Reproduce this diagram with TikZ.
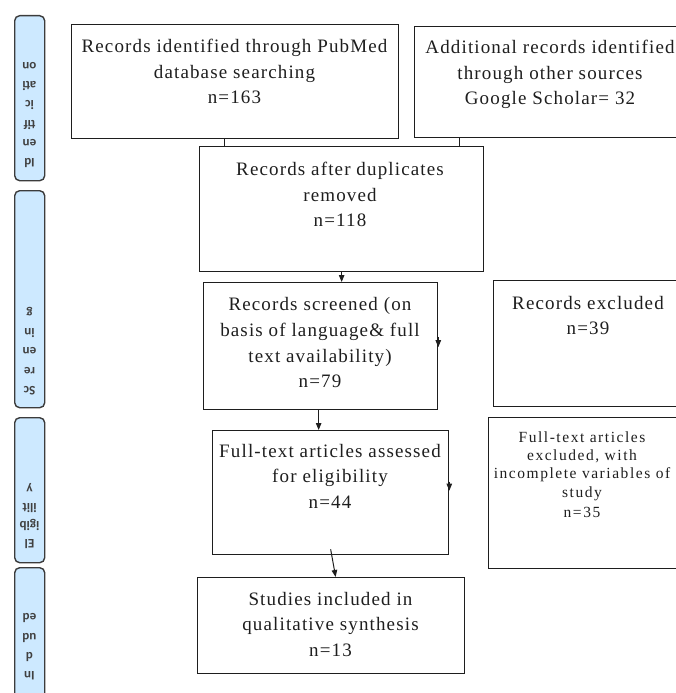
\documentclass[tikz,border=0pt]{standalone}
\usepackage{fontspec}
\setmainfont{Liberation Serif}
\newfontfamily\boxfont[LetterSpace=6]{Liberation Serif}
\newfontfamily\smallboxfont[LetterSpace=10]{Liberation Serif}
\newfontfamily\labfont{Carlito}
\usetikzlibrary{arrows.meta}
\definecolor{labfill}{RGB}{205,233,255}
\definecolor{labedge}{RGB}{60,60,60}
\definecolor{ink}{RGB}{30,30,30}
\begin{document}
\begin{tikzpicture}[x=1pt,y=-1pt,
  box/.style={draw=ink, line width=1.3pt, inner sep=0pt, anchor=north west},
  txt/.style={font=\boxfont\fontsize{19}{25.6}\selectfont, align=center, inner sep=0pt, anchor=north, text=ink},
  stxt/.style={font=\smallboxfont\fontsize{15.5}{18.2}\selectfont, align=center, inner sep=0pt, anchor=north, text=ink},
  lab/.style={draw=labedge, fill=labfill, rounded corners=5pt, line width=1.4pt, minimum width=30pt, inner sep=0pt, anchor=north west},
  labtxt/.style={font=\labfont\bfseries\fontsize{13}{19.3}\selectfont, align=center, inner sep=0pt, rotate=180, text=ink!85},
  conn/.style={draw=ink, line width=1pt},
  arr/.style={conn, -{Triangle[length=7pt,width=5.5pt]}}
]
\useasboundingbox (0,0) rectangle (676,693);
\clip (0,0) rectangle (676,693);

% phase labels
\node[lab, minimum height=165pt] (L1) at (14,15) {};
\node[lab, minimum height=217pt] (L2) at (14,190) {};
\node[lab, minimum height=145pt] (L3) at (14,417) {};
\node[lab, minimum height=140pt] (L4) at (14,567) {};
\node[labtxt] (L1t) at (29.5,115) {Id\\en\\tif\\ic\\ati\\on};
\node[labtxt] (L2t) at (29.5,351) {Sc\\re\\en\\in\\g};
\node[labtxt, font=\labfont\bfseries\fontsize{13}{17.7}\selectfont] (L3t) at (29.5,516) {El\\igib\\ilit\\y};
\node[labtxt] (L4t) at (29.5,647) {In\\d\\ud\\ed};

% boxes
\node[box, minimum width=327pt, minimum height=114pt] (A) at (71,24) {};
\node[box, minimum width=272pt, minimum height=111pt] (B) at (414,26) {};
\node[box, minimum width=284pt, minimum height=125pt] (C) at (199,146) {};
\node[box, minimum width=234pt, minimum height=127pt] (D) at (203,282) {};
\node[box, minimum width=236pt, minimum height=124pt] (E) at (212,430) {};
\node[box, minimum width=267pt, minimum height=96pt] (F) at (197,577) {};
\node[box, minimum width=190pt, minimum height=126pt] (G) at (493,280) {};
\node[box, minimum width=190pt, minimum height=151pt] (H) at (488,417) {};

% texts
\node[txt] (At) at (234.5,39) {Records identified through PubMed\\database searching\\n=163};
\node[txt] (Bt) at (550,40) {Additional records identified\\through other sources\\Google Scholar= 32};
\node[txt] (Ct) at (340,162) {Records after duplicates\\removed\\n=118};
\node[txt] (Dt) at (320,297.5) {Records screened (on\\basis of language\& full\\text availability)\\n=79};
\node[txt] (Et) at (330,444) {Full-text articles assessed\\for eligibility\\n=44};
\node[txt] (Ft) at (330.5,592) {Studies included in\\qualitative synthesis\\n=13};
\node[txt] (Gt) at (588,296) {Records excluded\\n=39};
\node[stxt] (Ht) at (582,431.5) {Full-text articles\\excluded, with\\incomplete variables of\\study\\[2pt]n=35};

% connectors
\draw[conn] ([xshift=-10.5pt]A.south) coordinate (a1) -- (a1 |- C.north);
\draw[conn] ([xshift=-91pt]B.south) coordinate (b1) -- (b1 |- C.north);
\draw[arr] (C.south) -- (C.south |- D.north);
\draw[arr] ([xshift=-2pt]D.south) coordinate (d1) -- (d1 |- E.north);
\draw[arr] ([yshift=6pt]E.south) -- ([xshift=4.5pt]F.north);
\draw[arr] ([yshift=9pt]D.east) -- ([yshift=-1pt]D.east);
\draw[arr] ([yshift=11pt]E.east) -- ([yshift=2pt]E.east);
\end{tikzpicture}
\end{document}
